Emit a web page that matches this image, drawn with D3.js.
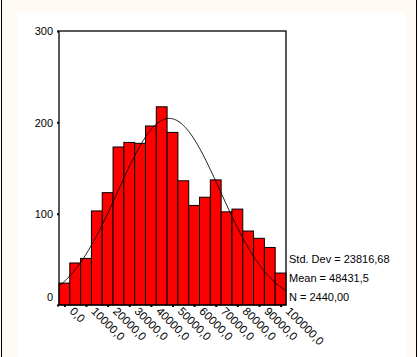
<!DOCTYPE html>
<html><head><meta charset="utf-8">
<script src="https://cdn.jsdelivr.net/npm/d3@7"></script>
<style>html,body{margin:0;padding:0;background:#fffaf3;}svg{display:block;}</style>
</head><body>
<svg id="c" width="418" height="357"></svg>
<script>
const binCenters = [0,5000,10000,15000,20000,25000,30000,35000,40000,45000,50000,55000,60000,65000,70000,75000,80000,85000,90000,95000,100000];
const counts = [24,46,51,103,123,173,178,177,196,217,189,136,109,118,137,102,105,81,73,63,35];
const xTickValues = [0,10000,20000,30000,40000,50000,60000,70000,80000,90000,100000];
const xTickLabels = ["0,0","10000,0","20000,0","30000,0","40000,0","50000,0","60000,0","70000,0","80000,0","90000,0","100000,0"];
const yTickValues = [0,100,200,300];
const statsLabels = ["Std. Dev = 23816,68","Mean = 48431,5","N = 2440,00"];
const meanVal = 48431.5, sdVal = 23816.68, nVal = 2440, binWidth = 5000;

const svg = d3.select("#c");
const font = "'Liberation Sans', Arial, sans-serif";
svg.append("rect").attr("x",0).attr("y",0).attr("width",418).attr("height",357).attr("fill","#fffaf3");
svg.append("rect").attr("x",18).attr("y",13).attr("width",387).attr("height",344).attr("fill","#ffffff");
svg.append("line").attr("x1",1.5).attr("x2",1.5).attr("y1",0).attr("y2",357).attr("stroke","#000").attr("stroke-width",1);
svg.append("line").attr("x1",416.5).attr("x2",416.5).attr("y1",0).attr("y2",357).attr("stroke","#000").attr("stroke-width",1);

const L = 59, R = 286, T = 31, B = 305;
const x = d3.scaleLinear().domain([-2500,102500]).range([L,R]);
const y = d3.scaleLinear().domain([0,300]).range([B,T]);

// bars
svg.append("g").selectAll("rect").data(binCenters).join("rect")
  .attr("x", (d)=>x(d-binWidth/2))
  .attr("width", (d)=>x(d+binWidth/2)-x(d-binWidth/2))
  .attr("y", (d,i)=>y(counts[i]))
  .attr("height", (d,i)=>y(0)-y(counts[i]))
  .attr("fill","#ff0000").attr("stroke","#000").attr("stroke-width",1);

// normal curve
const pts = d3.range(-2500, 102501, 500).map(v=>[v, nVal*binWidth/(sdVal*Math.sqrt(2*Math.PI))*Math.exp(-0.5*Math.pow((v-meanVal)/sdVal,2))]);
svg.append("path").datum(pts)
  .attr("d", d3.line().x(d=>x(d[0])).y(d=>y(d[1])).curve(d3.curveBasis))
  .attr("fill","none").attr("stroke","#000").attr("stroke-width",0.9);

// frame
svg.append("rect").attr("x",L).attr("y",T).attr("width",R-L).attr("height",B-T)
  .attr("fill","none").attr("stroke","#000").attr("stroke-width",1.3);

// y axis
const ya = svg.append("g").attr("transform",`translate(${L},0)`)
  .call(d3.axisLeft(y).tickValues(yTickValues).tickSize(2).tickFormat(d3.format("d")));
ya.select(".domain").remove();
ya.selectAll(".tick line").attr("stroke","#000").attr("stroke-width",2);
ya.selectAll(".tick text").attr("font-family",font).attr("font-size",11).attr("fill","#000").attr("x",-6)
  .attr("dy", d=> d===0 ? "-0.4em" : "0.35em");

// x axis
const xa = svg.append("g").attr("transform",`translate(0,${B})`)
  .call(d3.axisBottom(x).tickValues(xTickValues).tickSize(2).tickFormat((d,i)=>xTickLabels[i]));
xa.select(".domain").remove();
xa.selectAll(".tick line").attr("stroke","#000").attr("stroke-width",2);
xa.selectAll(".tick text").attr("font-family",font).attr("font-size",11.5).attr("fill","#000")
  .attr("text-anchor","start").attr("x",0).attr("y",0).attr("dy",0)
  .attr("transform","translate(4,7) rotate(45)");

// stats
svg.append("g").selectAll("text").data(statsLabels).join("text")
  .attr("x",289).attr("y",(d,i)=>[259,278,297][i]).attr("dy","0.35em")
  .attr("font-family",font).attr("font-size",11).attr("fill","#000").text(d=>d);
</script>
</body></html>
